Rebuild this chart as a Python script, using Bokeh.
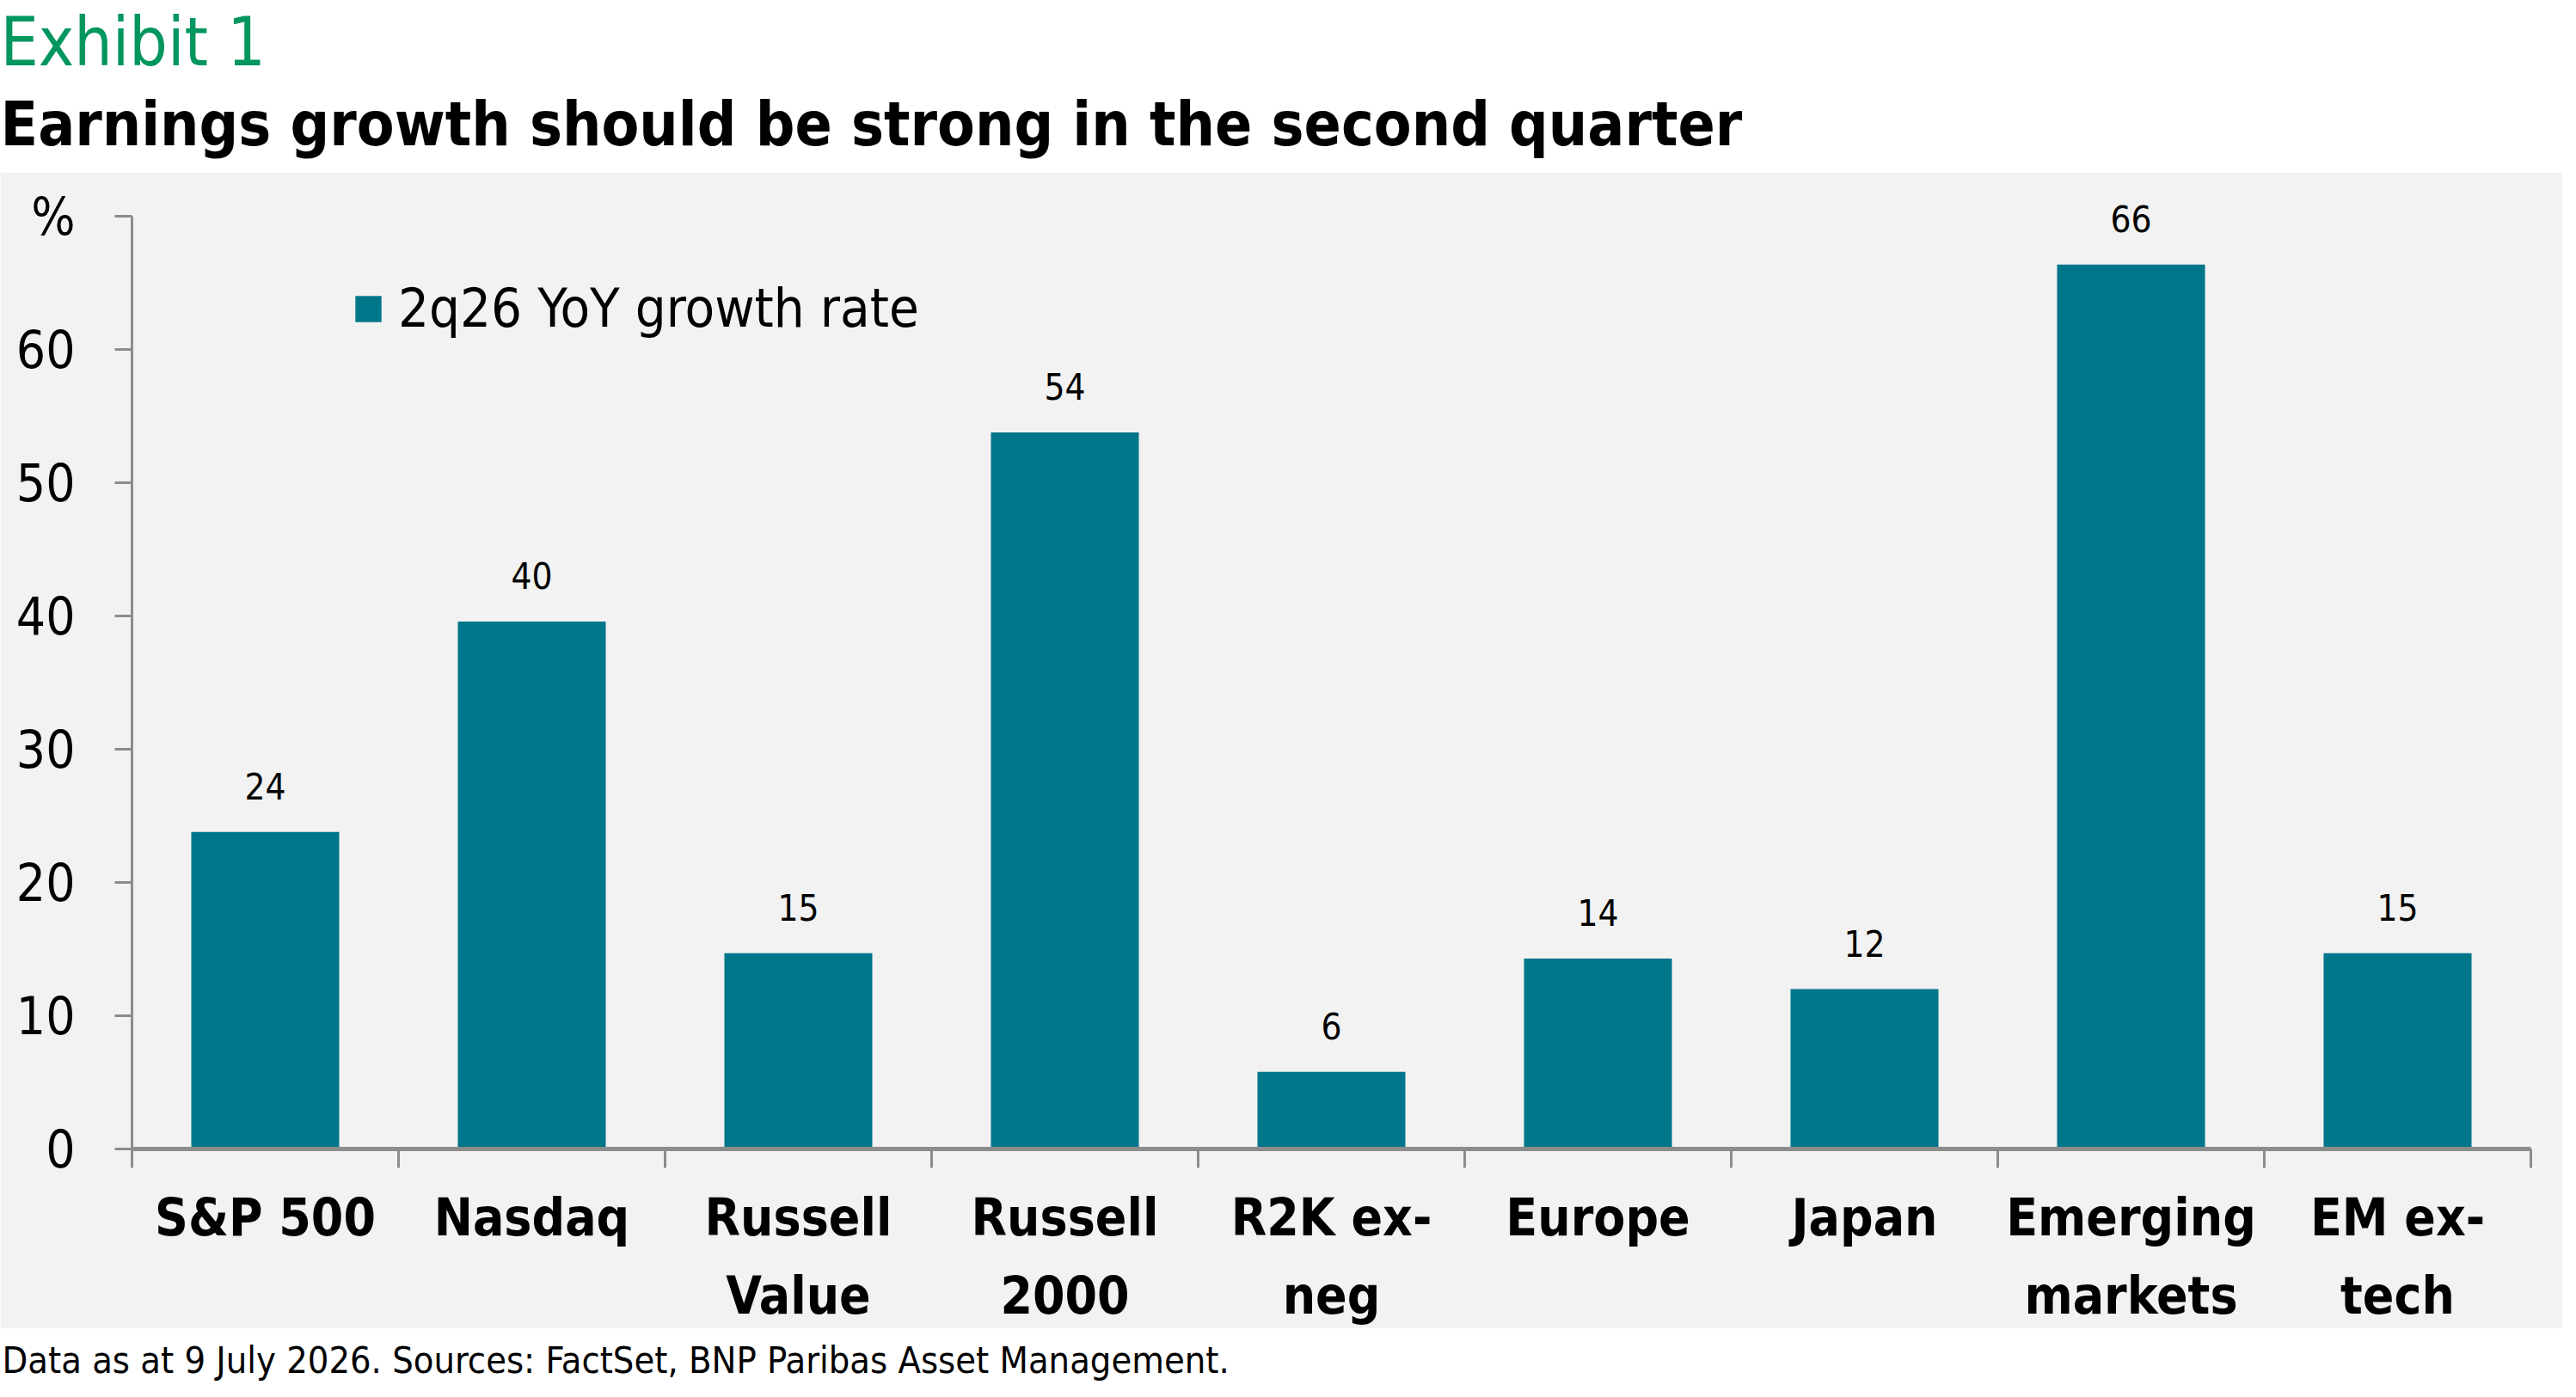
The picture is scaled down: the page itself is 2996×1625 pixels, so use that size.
from bokeh.plotting import figure
from bokeh.models import (Range1d, FixedTicker, Legend, LegendItem, ColumnDataSource)
from bokeh.layouts import column
from bokeh.embed import file_html
from bokeh.resources import INLINE
from bokeh.core.properties import value

# ---- data ----
categories = ["S&P 500", "Nasdaq", "Russell\nValue", "Russell\n2000", "R2K ex-\nneg",
              "Europe", "Japan", "Emerging\nmarkets", "EM ex-\ntech"]
growth = [23.8, 39.6, 14.7, 53.8, 5.8, 14.3, 12.0, 66.4, 14.7]
value_labels = ["24", "40", "15", "54", "6", "14", "12", "66", "15"]
y_ticks = [0, 10, 20, 30, 40, 50, 60, 70]
y_tick_labels = ["0", "10", "20", "30", "40", "50", "60", "%"]
series_name = "2q26 YoY growth rate"
title_exhibit = "Exhibit 1"
title_main = "Earnings growth should be strong in the second quarter"
footnote = "Data as at 9 July 2026. Sources: FactSet, BNP Paribas Asset Management."

FONT = "DejaVu Sans Condensed"
TEAL = "#00768A"
GREEN = "#00965E"
PANEL = "#F2F2F2"
AXIS = "#8C8C8C"

W = 2980
H_TOP = 200
H_MAIN = 1345
H_FOOT = 64

# ---- header ----
top = figure(width=W, height=H_TOP, x_range=Range1d(0, W), y_range=Range1d(H_TOP, 0),
             output_backend="svg", toolbar_location=None, min_border=0, frame_align=False,
             background_fill_color="white", border_fill_color="white", outline_line_color=None)
top.axis.visible = False
top.grid.visible = False
top.text(x=[0], y=[48], text=[title_exhibit], text_font=value(FONT), text_font_size="78px",
         text_color=GREEN, text_baseline="alphabetic", text_align="left")
top.text(x=[0], y=[144], text=[title_main], text_font=value(FONT), text_font_size="71px",
         text_font_style="bold", text_color="black", text_baseline="alphabetic", text_align="left")

# ---- main chart ----
xs = [i + 0.5 for i in range(len(categories))]
src = ColumnDataSource(dict(x=xs, top=growth, lab=value_labels))

p = figure(width=W, height=H_MAIN, x_range=Range1d(0, len(categories)), y_range=Range1d(0, 73),
           output_backend="svg", toolbar_location=None, frame_align=False,
           min_border_left=153, min_border_right=37, min_border_top=5, min_border_bottom=209,
           background_fill_color=PANEL, border_fill_color=PANEL, outline_line_color=None)
p.grid.visible = False

bars = p.vbar(x="x", top="top", width=0.555, bottom=0, source=src, fill_color=TEAL, line_color=None)
p.text(x="x", y="top", text="lab", source=src, text_font=value(FONT), text_font_size="42px",
       text_color="black", text_align="center", text_baseline="alphabetic", y_offset=-53)

# y axis
ya = p.yaxis[0]
ya.bounds = (0, 70)
ya.ticker = FixedTicker(ticks=y_ticks, minor_ticks=[])
ya.major_label_overrides = {t: l for t, l in zip(y_ticks, y_tick_labels)}
ya.axis_line_color = AXIS
ya.axis_line_width = 3
ya.major_tick_line_color = AXIS
ya.major_tick_line_width = 3
ya.major_tick_in = 0
ya.major_tick_out = 20
ya.minor_tick_line_color = None
ya.major_label_text_font = FONT
ya.major_label_text_font_size = "60px"
ya.major_label_text_color = "black"
ya.major_label_standoff = 46

# x axis: labels at centres, ticks at boundaries
xa = p.xaxis[0]
xa.ticker = FixedTicker(ticks=xs, minor_ticks=list(range(len(categories) + 1)))
xa.major_label_overrides = {x: c for x, c in zip(xs, categories)}
xa.axis_line_color = AXIS
xa.axis_line_width = 5
xa.major_tick_line_color = None
xa.major_tick_in = 0
xa.major_tick_out = 22
xa.minor_tick_line_color = AXIS
xa.minor_tick_line_width = 3
xa.minor_tick_in = 0
xa.minor_tick_out = 22
xa.major_label_text_font = FONT
xa.major_label_text_font_size = "60px"
xa.major_label_text_font_style = "bold"
xa.major_label_text_color = "black"
xa.major_label_text_line_height = 1.3
xa.major_label_standoff = 22

legend = Legend(items=[LegendItem(label=series_name, renderers=[bars])], location=(256, 941),
                background_fill_alpha=0, border_line_color=None, padding=0, margin=0,
                glyph_width=38, glyph_height=38, label_standoff=16,
                label_text_font=FONT, label_text_font_size="63px", label_text_color="black")
p.add_layout(legend)

# ---- footer ----
foot = figure(width=W, height=H_FOOT, x_range=Range1d(0, W), y_range=Range1d(H_FOOT, 0),
              output_backend="svg", toolbar_location=None, min_border=0, frame_align=False,
              background_fill_color="white", border_fill_color="white", outline_line_color=None)
foot.axis.visible = False
foot.grid.visible = False
foot.text(x=[2], y=[36], text=[footnote], text_font=value(FONT), text_font_size="43px",
          text_color="black", text_baseline="alphabetic", text_align="left")

layout = column(top, p, foot, spacing=0)
open("out.html", "w").write(file_html(layout, INLINE))
